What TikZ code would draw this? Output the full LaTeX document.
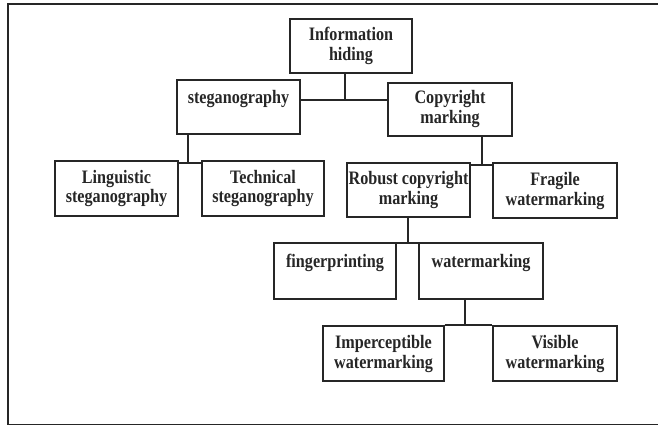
\documentclass[tikz,border=0pt]{standalone}
\usepackage{fontspec}
\setmainfont{Liberation Serif}
\newfontfamily\dfont[FakeStretch=0.85]{Liberation Serif}
\definecolor{ink}{HTML}{262626}
\begin{document}
\begin{tikzpicture}[x=1pt,y=-1pt,
  box/.style={draw=ink, line width=1.3pt, inner sep=0pt, text=ink, align=center,
    font=\dfont\fontsize{19}{20}\selectfont\bfseries},
  link/.style={draw=ink, line width=1.3pt},
  frame/.style={draw=ink, line width=1.5pt}]
\useasboundingbox (0,0) rectangle (658,426);
\fill[white] (0,0) rectangle (658,426);
\draw[frame] (658,4) -- (8,4) -- (8,424.5) -- (658,424.5);

\node[box, minimum width=122pt, minimum height=54pt] (ih) at (351,46) {Information\\hiding};
\node[box, minimum width=123pt, minimum height=54pt] (steg) at (238.5,107) {steganography\\~};
\node[box, minimum width=124pt, minimum height=53pt] (copy) at (450,109.5) {Copyright\\marking};
\node[box, minimum width=123pt, minimum height=55pt] (ling) at (116.5,188.5) {Linguistic\\steganography};
\node[box, minimum width=122pt, minimum height=55pt] (tech) at (263,188.5) {Technical\\steganography};
\node[box, minimum width=123pt, minimum height=54pt] (robust) at (408.5,190) {Robust copyright\\marking};
\node[box, minimum width=124pt, minimum height=55pt] (fragile) at (555,190.5) {Fragile\\watermarking};
\node[box, minimum width=122pt, minimum height=56pt] (finger) at (335,271) {fingerprinting\\~};
\node[box, minimum width=124pt, minimum height=56pt] (water) at (481,271) {watermarking\\~};
\node[box, minimum width=121pt, minimum height=55pt] (imp) at (383.5,353.5) {Imperceptible\\watermarking};
\node[box, minimum width=124pt, minimum height=55pt] (vis) at (555,353.5) {Visible\\watermarking};

\coordinate (j1) at (345,100);
\coordinate (j2) at (188,163);
\coordinate (j3) at (482,165);
\coordinate (j4) at (408,243);
\coordinate (j5) at (465,325);

\draw[link] (ih.south -| j1) -- (j1);
\draw[link] (steg.east |- j1) -- (copy.west |- j1);
\draw[link] (steg.south -| j2) -- (j2);
\draw[link] (ling.east |- j2) -- (tech.west |- j2);
\draw[link] (copy.south -| j3) -- (j3);
\draw[link] (robust.east |- j3) -- (fragile.west |- j3);
\draw[link] (robust.south -| j4) -- (j4);
\draw[link] (finger.east |- j4) -- (water.west |- j4);
\draw[link] (water.south -| j5) -- (j5);
\draw[link] (imp.east |- j5) -- (vis.west |- j5);
\end{tikzpicture}
\end{document}
